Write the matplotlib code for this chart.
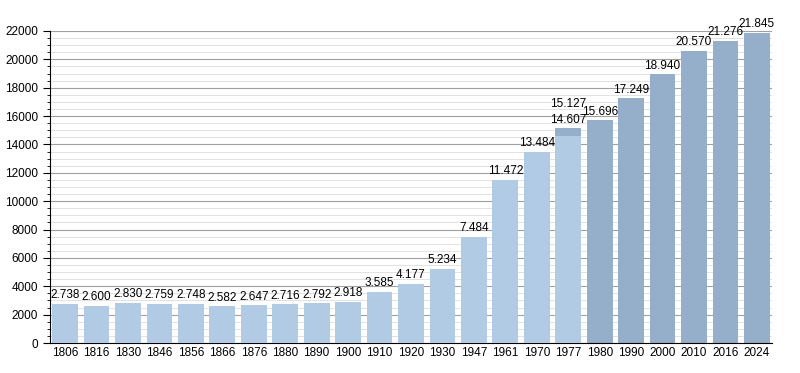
import matplotlib
matplotlib.use("Agg")
import matplotlib.pyplot as plt
from matplotlib.ticker import MultipleLocator

plt.rcParams["font.family"] = ["Liberation Sans", "DejaVu Sans"]

years = ["1806", "1816", "1830", "1846", "1856", "1866", "1876", "1880", "1890", "1900",
         "1910", "1920", "1930", "1947", "1961", "1970", "1977", "1980", "1990", "2000",
         "2010", "2016", "2024"]
light_values = [2738, 2600, 2830, 2759, 2748, 2582, 2647, 2716, 2792, 2918,
                3585, 4177, 5234, 7484, 11472, 13484, 14607, None, None, None,
                None, None, None]
dark_values = [None] * 16 + [15127, 15696, 17249, 18940, 20570, 21276, 21845]

LIGHT = "#b1cbe5"
DARK = "#95afcb"

def fmt(v):
    return f"{v:,}".replace(",", ".")

fig = plt.figure(figsize=(8, 3.73), dpi=100)
ax = fig.add_axes([0.0625, 0.0804, 0.9025, 0.8365])

x = list(range(len(years)))
w = 0.82
for i, v in enumerate(dark_values):
    if v is not None:
        ax.bar(i, v, width=w, color=DARK, zorder=2)
for i, v in enumerate(light_values):
    if v is not None:
        ax.bar(i, v, width=w, color=LIGHT, zorder=3)

FS = 8.5
for i in x:
    lv = light_values[i]
    dv = dark_values[i]
    if lv is not None and dv is not None:
        top = max(lv, dv)
        ax.text(i, top + 1300, fmt(dv), ha="center", va="bottom", fontsize=FS, zorder=5)
        ax.text(i, top + 150, fmt(lv), ha="center", va="bottom", fontsize=FS, zorder=5)
    else:
        v = lv if lv is not None else dv
        ax.text(i, v + 200, fmt(v), ha="center", va="bottom", fontsize=FS, zorder=5)

ax.set_xlim(-0.48, len(years) - 0.52)
ax.set_ylim(0, 22000)
ax.set_xticks(x)
ax.set_xticklabels(years, fontsize=FS)
ax.tick_params(axis="x", length=0, pad=3)
ax.yaxis.set_major_locator(MultipleLocator(2000))
ax.yaxis.set_minor_locator(MultipleLocator(500))
ax.tick_params(axis="y", which="major", labelsize=FS, length=5, width=0.8, direction="out")
ax.tick_params(axis="y", which="minor", length=2.5, width=0.6)
ax.grid(axis="y", which="major", color="#a0a0a0", linewidth=0.8, zorder=0)
ax.grid(axis="y", which="minor", color="#e2e2e2", linewidth=0.7, zorder=0)
ax.set_axisbelow(True)
for s in ["top", "right"]:
    ax.spines[s].set_visible(False)
ax.spines["left"].set_color("black")
ax.spines["bottom"].set_color("black")

fig.savefig("out.png", dpi=100)
